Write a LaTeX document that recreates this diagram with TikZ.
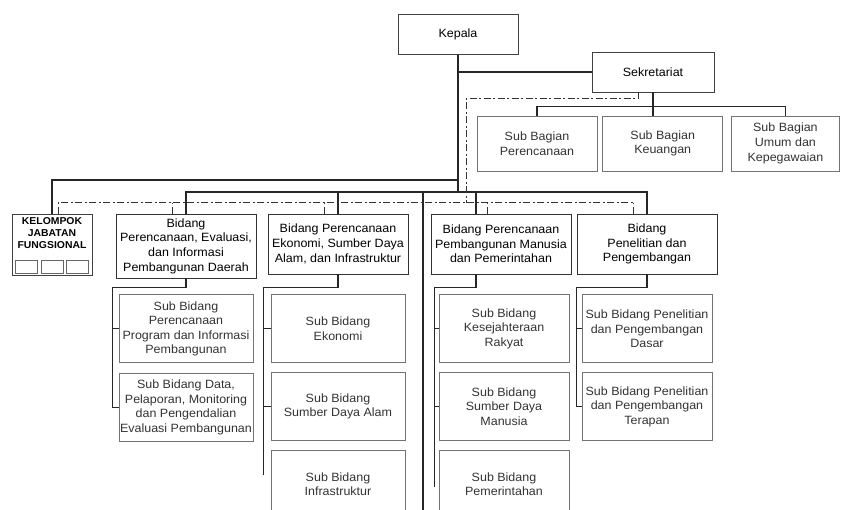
\documentclass[tikz,border=0pt]{standalone}
\usepackage{fontspec}
\setmainfont{Liberation Sans}[FakeStretch=1.04]
\usetikzlibrary{positioning}
\tikzset{
  orgbox/.style={
    rectangle, draw=black!75, line width=0.7pt, inner sep=0pt,
    align=center, font=\fontsize{12}{14.6}\selectfont
  },
  head/.style={orgbox, minimum width=120pt, minimum height=40pt},
  subbag/.style={orgbox, draw=black!55, text=black!80, minimum width=120pt, minimum height=55pt},
  bidang/.style={orgbox, draw=black!80, line width=0.9pt, minimum width=140pt, minimum height=60pt},
  subbid/.style={orgbox, draw=black!55, text=black!80, minimum width=134pt, minimum height=68pt},
  cell/.style={rectangle, draw=black!60, minimum width=22pt, minimum height=13pt, inner sep=0pt},
  link/.style={line width=1.1pt, black!85},
  koord/.style={line width=1pt, black!80, dash pattern=on 7pt off 2.5pt on 2pt off 2.5pt}
}

\begin{document}
\begin{tikzpicture}[x=1pt, y=-1pt]
    \clip (0,0) rectangle (842,510);
    % pimpinan dan sekretariat
    \node[head] (kpl) at (458,34.5) {Kepala};
    \node[head, minimum width=122pt] (skt) at (653,72) {Sekretariat};
    \node[subbag] (sb1) at (537,143.5) {Sub Bagian\\Perencanaan};
    \node[subbag, right=5pt of sb1] (sb2) {Sub Bagian\\Keuangan};
    \node[subbag, minimum width=108pt, right=8pt of sb2] (sb3) {Sub Bagian\\Umum dan\\Kepegawaian};

    % kelompok jabatan fungsional
    \node[orgbox, minimum width=80pt, minimum height=61pt] (klp) at (52,244.5) {};
    \node[font=\fontsize{10}{12}\selectfont\bfseries, align=center, inner sep=0pt, below=4pt of klp.north] (klpt) {KELOMPOK\\JABATAN\\FUNGSIONAL};
    \node[cell, above=2pt of klp.south] (k2) {};
    \node[cell, left=3pt of k2] (k1) {};
    \node[cell, right=3pt of k2] (k3) {};

    % bidang
    \node[bidang, minimum height=64pt] (bid1) at (186,246) {Bidang\\Perencanaan, Evaluasi,\\dan Informasi\\Pembangunan Daerah};
    \node[bidang] (bid2) at (338,244) {Bidang Perencanaan\\Ekonomi, Sumber Daya\\Alam, dan Infrastruktur};
    \node[bidang] (bid3) at (501,244) {Bidang Perencanaan\\Pembangunan Manusia\\dan Pemerintahan};
    \node[bidang] (bid5) at (647,244) {Bidang\\Penelitian dan\\Pengembangan};

    % sub bidang
    \node[subbid, below=16pt of bid1] (s11) {Sub Bidang\\Perencanaan\\Program dan Informasi\\Pembangunan};
    \node[subbid, below=10pt of s11] (s12) {Sub Bidang Data,\\Pelaporan, Monitoring\\dan Pengendalian\\Evaluasi Pembangunan};
    \node[subbid, below=20pt of bid2] (s21) {Sub Bidang\\Ekonomi};
    \node[subbid, below=9pt of s21] (s22) {Sub Bidang\\Sumber Daya Alam};
    \node[subbid, below=9pt of s22] (s23) {Sub Bidang\\Infrastruktur};
    \node[subbid, minimum width=130pt, below=20pt of bid3, xshift=3pt] (s31) {Sub Bidang\\Kesejahteraan\\Rakyat};
    \node[subbid, minimum width=130pt, below=9pt of s31] (s32) {Sub Bidang\\Sumber Daya\\Manusia};
    \node[subbid, minimum width=130pt, below=9pt of s32] (s33) {Sub Bidang\\Pemerintahan};
    \node[subbid, minimum width=130pt, below=20pt of bid5] (s51) {Sub Bidang Penelitian\\dan Pengembangan\\Dasar};
    \node[subbid, minimum width=130pt, below=9pt of s51] (s52) {Sub Bidang Penelitian\\dan Pengembangan\\Terapan};

    % garis komando
    \coordinate (busA) at (458,180);
    \coordinate (busB) at (458,192);
    \coordinate (tail) at (423,510);
    \draw[link] (kpl.south) -- (kpl.south |- skt.west) -- (skt.west);
    \draw[link] (skt.south) -- (skt.south |- sb2.north);
    \draw[link] (sb1.north) -- ++(0,-9) -| (sb3.north);
    \draw[link] (kpl.south) -- (busB);
    \draw[link] (busA) -| (klp.north);
    \draw[link] (bid1.north) |- (busB) -| (bid5.north);
    \draw[link] (bid2.north) -- (bid2.north |- busB);
    \draw[link] ([xshift=-25pt]bid3.north) -- ++(0,-22);
    \draw[link] (tail |- busB) -- (tail);

    \draw[link] (bid1.south) -- ++(0,9) -| ([xshift=-6pt]s12.west) -- (s12.west);
    \draw[link] ([xshift=-6pt]s11.west) -- (s11.west);
    \draw[link] (bid2.south) -- ++(0,13) -| ([xshift=-7pt,yshift=-25pt]s23.north west);
    \foreach \s in {s21,s22}
      \draw[link] ([xshift=-7pt]\s.west) -- (\s.west);
    \draw[link] ([xshift=-25pt]bid3.south) -- ++(0,13) -| ([xshift=-4pt,yshift=-37pt]s33.north west);
    \foreach \s in {s31,s32}
      \draw[link] ([xshift=-4pt]\s.west) -- (\s.west);
    \draw[link] (bid5.south) -- ++(0,13) -| ([xshift=-5pt]s52.west) -- (s52.west);
    \draw[link] ([xshift=-5pt]s51.west) -- (s51.west);

    % garis koordinasi
    \coordinate (dA) at (466,99);
    \coordinate (dL) at (58,203);
    \coordinate (dR) at (633,203);
    \draw[koord] ([xshift=-15pt]skt.south) |- (dA) -- (dA |- dL);
    \draw[koord] (dL |- klp.north) -- (dL) -- (dR);
    \foreach \b in {bid1,bid2,bid3,bid5}
      \draw[koord] ([xshift=-14pt]\b.north) -- ++(0,-11);
\end{tikzpicture}
\end{document}
